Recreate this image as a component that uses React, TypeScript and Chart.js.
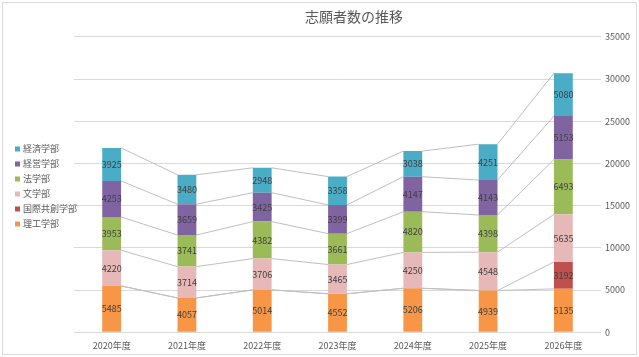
import React, { useEffect, useRef } from "react";
import { Chart, registerables } from "chart.js";

Chart.register(...registerables);

const years = ["2020年度", "2021年度", "2022年度", "2023年度", "2024年度", "2025年度", "2026年度"];
const rikou = [5485, 4057, 5014, 4552, 5206, 4939, 5135];
const kokusai = [0, 0, 0, 0, 0, 0, 3192];
const bungaku = [4220, 3714, 3706, 3465, 4250, 4548, 5635];
const hougaku = [3953, 3741, 4382, 3661, 4820, 4398, 6493];
const keiei = [4253, 3659, 3425, 3399, 4147, 4143, 5153];
const keizai = [3925, 3480, 2948, 3358, 3038, 4251, 5080];
const yTicks = [0, 5000, 10000, 15000, 20000, 25000, 30000, 35000];

const FONT = "'Noto Sans CJK JP', 'Noto Sans', sans-serif";

const seriesLines = {
  id: "seriesLines",
  beforeDatasetsDraw(chart: any) {
    const ctx = chart.ctx;
    ctx.save();
    ctx.strokeStyle = "#bfbfbf";
    ctx.lineWidth = 1;
    chart.data.datasets.forEach((_: any, i: number) => {
      const meta = chart.getDatasetMeta(i);
      const els = meta.data;
      for (let j = 0; j < els.length - 1; j++) {
        const a = els[j];
        const b = els[j + 1];
        ctx.beginPath();
        ctx.moveTo(a.x + a.width / 2, a.y);
        ctx.lineTo(b.x - b.width / 2, b.y);
        ctx.stroke();
      }
    });
    ctx.restore();
  },
};

const dataLabels = {
  id: "dataLabels",
  afterDatasetsDraw(chart: any) {
    const ctx = chart.ctx;
    ctx.save();
    ctx.font = `9px ${FONT}`;
    ctx.fillStyle = "#404040";
    ctx.textAlign = "center";
    ctx.textBaseline = "middle";
    chart.data.datasets.forEach((ds: any, i: number) => {
      const meta = chart.getDatasetMeta(i);
      meta.data.forEach((el: any, j: number) => {
        const v = ds.data[j];
        if (!v) return;
        ctx.fillText(String(v), el.x, (el.y + el.base) / 2);
      });
    });
    ctx.restore();
  },
};

const frame = {
  id: "frame",
  beforeDraw(chart: any) {
    const ctx = chart.ctx;
    ctx.save();
    ctx.fillStyle = "#ffffff";
    ctx.fillRect(0, 0, chart.width, chart.height);
    ctx.strokeStyle = "#d9d9d9";
    ctx.lineWidth = 1;
    ctx.strokeRect(2.5, 2.5, chart.width - 5, chart.height - 5);
    ctx.restore();
  },
};

const sideLegend = {
  id: "sideLegend",
  afterDraw(chart: any) {
    const ctx = chart.ctx;
    const items = chart.data.datasets.map((d: any) => ({ label: d.label, color: d.backgroundColor })).reverse();
    ctx.save();
    ctx.font = `9px ${FONT}`;
    ctx.textAlign = "left";
    ctx.textBaseline = "middle";
    items.forEach((it: any, k: number) => {
      const y = 149 + k * 15;
      ctx.fillStyle = it.color;
      ctx.fillRect(15, y - 2.5, 5, 5);
      ctx.fillStyle = "#595959";
      ctx.fillText(it.label, 23, y);
    });
    ctx.restore();
  },
};

export default function App() {
  const ref = useRef<HTMLCanvasElement>(null);
  useEffect(() => {
    document.body.style.margin = "0";
    const chart = new Chart(ref.current!, {
      type: "bar",
      data: {
        labels: years,
        datasets: [
          { label: "理工学部", data: rikou, backgroundColor: "#f79646" },
          { label: "国際共創学部", data: kokusai, backgroundColor: "#c0504d" },
          { label: "文学部", data: bungaku, backgroundColor: "#e6b9b8" },
          { label: "法学部", data: hougaku, backgroundColor: "#9bbb59" },
          { label: "経営学部", data: keiei, backgroundColor: "#8064a2" },
          { label: "経済学部", data: keizai, backgroundColor: "#4bacc6" },
        ],
      },
      options: {
        responsive: true,
        maintainAspectRatio: false,
        animation: false,
        datasets: { bar: { barPercentage: 0.25, categoryPercentage: 1, borderWidth: 0 } },
        layout: { padding: { left: 74, right: 5, top: 0, bottom: -2 } },
        plugins: {
          title: {
            display: true,
            text: "志願者数の推移",
            color: "#595959",
            font: { family: FONT, size: 14, weight: "normal" },
            padding: { top: 8, bottom: 12 },
          },
          legend: { display: false },
          tooltip: { enabled: false },
        },
        scales: {
          x: {
            stacked: true,
            grid: { display: false, drawTicks: false },
            border: { display: false },
            ticks: { color: "#595959", font: { family: FONT, size: 9 }, padding: 8, maxRotation: 0 },
          },
          y: {
            stacked: true,
            position: "right",
            min: 0,
            max: 35000,
            afterBuildTicks: (axis: any) => {
              axis.ticks = yTicks.map((v) => ({ value: v }));
            },
            grid: { color: "#d9d9d9", drawTicks: false },
            border: { display: false },
            ticks: {
              color: "#595959",
              font: { family: FONT, size: 9 },
              padding: 4,
              callback: (v: any) => String(v),
            },
          },
        },
      },
      plugins: [frame, seriesLines, dataLabels, sideLegend],
    });
    return () => chart.destroy();
  }, []);
  return (
    <div style={{ width: 639, height: 357, position: "relative" }}>
      <canvas ref={ref} />
    </div>
  );
}
